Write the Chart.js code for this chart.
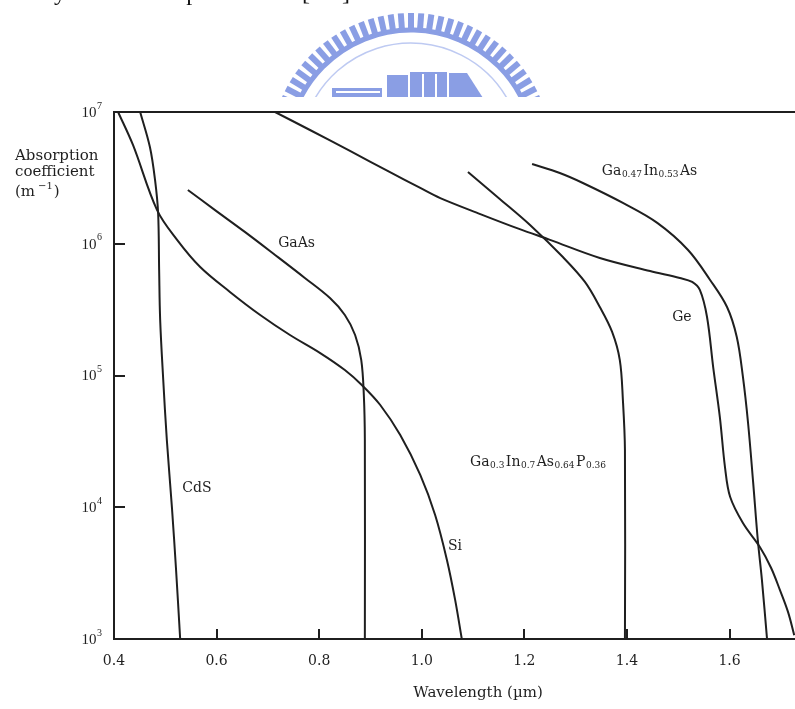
<!DOCTYPE html>
<html>
<head>
<meta charset="utf-8">
<script src="https://cdn.jsdelivr.net/npm/chart.js@4.4.0/dist/chart.umd.min.js"></script>
<style>
  html, body { margin: 0; padding: 0; background: #fff; }
  canvas { display: block; }
</style>
</head>
<body>
<canvas id="c" width="795" height="709"></canvas>
<script>
// Absorption coefficient of common semiconductors against wavelength (log scale)
const xMin = 0.4, xMax = 1.7275;
const yMin = 1e3, yMax = 1e7;
const xTickValues = [0.4, 0.6, 0.8, 1.0, 1.2, 1.4, 1.6];
const yTickExponents = [3, 4, 5, 6, 7];

// wavelength in µm, absorption coefficient in m^-1
const siWavelength = [0.408, 0.437, 0.484, 0.523, 0.568, 0.626, 0.685, 0.743, 0.802, 0.850, 0.883, 0.919, 0.958, 0.997, 1.026, 1.049, 1.065, 1.078];
const siAlpha      = [1e7, 5.62e6, 1.80e6, 1.07e6, 6.66e5, 4.31e5, 2.88e5, 2.03e5, 1.48e5, 1.10e5, 8.47e4, 5.97e4, 3.53e4, 1.76e4, 8.73e3, 3.98e3, 1.98e3, 1e3];

const gaasWavelength = [0.544, 0.597, 0.655, 0.714, 0.772, 0.821, 0.850, 0.870, 0.882, 0.887, 0.889, 0.889];
const gaasAlpha      = [2.56e6, 1.80e6, 1.23e6, 8.22e5, 5.50e5, 3.87e5, 2.88e5, 2.03e5, 1.31e5, 7.11e4, 3.24e4, 1e3];

const cdsWavelength = [0.451, 0.470, 0.480, 0.486, 0.488, 0.490, 0.496, 0.503, 0.513, 0.521, 0.529];
const cdsAlpha      = [1e7, 5.42e6, 3.05e6, 1.71e6, 6.32e5, 2.64e5, 9.25e4, 3.24e4, 9.87e3, 3.34e3, 1e3];

const geWavelength = [0.714, 0.782, 0.860, 0.938, 0.997, 1.036, 1.114, 1.191, 1.250, 1.347, 1.445, 1.503, 1.527, 1.542, 1.556, 1.568, 1.581, 1.591, 1.601, 1.626, 1.659, 1.681, 1.698, 1.714, 1.726];
const geAlpha      = [1e7, 7.30e6, 5.06e6, 3.50e6, 2.65e6, 2.22e6, 1.68e6, 1.29e6, 1.07e6, 7.80e5, 6.21e5, 5.50e5, 5.13e5, 4.46e5, 2.78e5, 1.16e5, 4.84e4, 2.02e4, 1.20e4, 7.59e3, 4.99e3, 3.46e3, 2.36e3, 1.60e3, 1.07e3];

const gainaspWavelength = [1.090, 1.152, 1.211, 1.275, 1.318, 1.347, 1.371, 1.386, 1.392, 1.396, 1.396];
const gainaspAlpha      = [3.50e6, 2.19e6, 1.39e6, 7.93e5, 5.13e5, 3.31e5, 2.14e5, 1.31e5, 6.52e4, 2.72e4, 1e3];

const gainasWavelength = [1.215, 1.269, 1.314, 1.392, 1.459, 1.519, 1.562, 1.595, 1.614, 1.626, 1.636, 1.646, 1.655, 1.663, 1.673];
const gainasAlpha      = [4.03e6, 3.44e6, 2.89e6, 2.04e6, 1.44e6, 8.97e5, 5.31e5, 3.31e5, 1.96e5, 9.75e4, 4.36e4, 1.53e4, 5.64e3, 2.81e3, 1e3];

const seriesNames = ['Si', 'GaAs', 'CdS', 'Ge', 'GaInAsP', 'GaInAs'];

// Curve captions: text pieces [text, isSubscript], anchored in data units (left edge, mid height)
const curveLabels = [
  { parts: [['CdS', 0]], at: [0.533, 1.40e4] },
  { parts: [['GaAs', 0]], at: [0.720, 1.01e6] },
  { parts: [['Si', 0]], at: [1.051, 5.08e3] },
  { parts: [['Ge', 0]], at: [1.488, 2.78e5] },
  { parts: [['Ga', 0], ['0.3', 1], ['In', 0], ['0.7', 1], ['As', 0], ['0.64', 1], ['P', 0], ['0.36', 1]], at: [1.094, 2.20e4] },
  { parts: [['Ga', 0], ['0.47', 1], ['In', 0], ['0.53', 1], ['As', 0]], at: [1.351, 3.57e6] }
];

const INK = '#1f1f1f';
const SERIF = '"Liberation Serif", "Times New Roman", serif';
const WIDE_SERIF = '"DejaVu Serif", "Liberation Serif", serif';

function pairs(xs, ys) { return xs.map((x, i) => ({ x: x, y: ys[i] })); }

function curve(label, xs, ys) {
  return {
    label: label,
    data: pairs(xs, ys),
    borderColor: INK,
    borderWidth: 2,
    pointRadius: 0,
    tension: 0.35,
    fill: false
  };
}

function drawParts(ctx, parts, x, y, base, sub) {
  let cx = x;
  parts.forEach(([t, isSub]) => {
    ctx.font = (isSub ? sub : base) + 'px ' + WIDE_SERIF;
    ctx.fillText(t, cx, isSub ? y + 4 : y);
    cx += ctx.measureText(t).width + (isSub ? 1.5 : 0.5);
  });
}

// Institutional seal behind the heading, plus annotations drawn on top of the axes
const decorations = {
  id: 'decorations',
  beforeDraw(chart) {
    const ctx = chart.ctx;
    ctx.save();
    ctx.fillStyle = '#fff';
    ctx.fillRect(0, 0, chart.width, chart.height);

    // seal (cut at its lower part)
    ctx.beginPath();
    ctx.rect(0, 0, chart.width, 97);
    ctx.clip();
    const cx = 411, cy = 154;
    const blue = 'rgb(138,158,228)';
    ctx.strokeStyle = blue;
    ctx.lineWidth = 5;
    ctx.beginPath();
    ctx.arc(cx, cy, 124, -Math.PI / 2 - 1.17, -Math.PI / 2 + 1.17);
    ctx.stroke();
    const nTeeth = 33;
    const a0 = -1.16, a1 = 1.16;
    ctx.lineWidth = 6;
    for (let i = 0; i < nTeeth; i++) {
      const a = a0 + (a1 - a0) * i / (nTeeth - 1);
      const s = Math.sin(a), c = Math.cos(a);
      ctx.beginPath();
      ctx.moveTo(cx + 124 * s, cy - 124 * c);
      ctx.lineTo(cx + 141 * s, cy - 141 * c);
      ctx.stroke();
    }
    ctx.strokeStyle = 'rgb(190,202,242)';
    ctx.lineWidth = 1.5;
    ctx.beginPath();
    ctx.arc(cx, cy, 111, -Math.PI / 2 - 1.1, -Math.PI / 2 + 1.1);
    ctx.stroke();
    ctx.fillStyle = blue;
    ctx.fillRect(332, 88, 50, 10);
    ctx.fillRect(387, 75, 21, 23);
    ctx.fillRect(410, 72, 37, 26);
    ctx.beginPath();
    ctx.moveTo(449, 73); ctx.lineTo(467, 73); ctx.lineTo(483, 98); ctx.lineTo(449, 98);
    ctx.closePath(); ctx.fill();
    ctx.fillStyle = '#fff';
    ctx.fillRect(336, 91, 44, 2);
    ctx.fillRect(422, 74, 2, 24);
    ctx.fillRect(435, 74, 2, 24);
    ctx.restore();

    // last line of the preceding paragraph, only its descenders fall on the page
    ctx.save();
    ctx.fillStyle = '#111';
    ctx.font = '24px ' + SERIF;
    ctx.textBaseline = 'alphabetic';
    ctx.fillText('by', 42, 0);
    ctx.fillText('spectra', 177, 0);
    ctx.fillText('[2-4]', 302, 0);
    ctx.restore();
  },
  afterDraw(chart) {
    const ctx = chart.ctx;
    const xs = chart.scales.x, ys = chart.scales.y;
    const area = chart.chartArea;
    ctx.save();
    ctx.strokeStyle = INK;
    ctx.fillStyle = INK;
    ctx.lineWidth = 2;

    // inward tick marks
    xTickValues.forEach(v => {
      if (v <= xMin) return;
      const px = Math.round(xs.getPixelForValue(v));
      ctx.beginPath();
      ctx.moveTo(px, area.bottom);
      ctx.lineTo(px, area.bottom - 10);
      ctx.stroke();
    });
    yTickExponents.forEach(e => {
      const v = Math.pow(10, e);
      if (v <= yMin || v >= yMax) return;
      const py = Math.round(ys.getPixelForValue(v));
      ctx.beginPath();
      ctx.moveTo(area.left, py);
      ctx.lineTo(area.left + 11, py);
      ctx.stroke();
    });

    // y tick labels as powers of ten
    ctx.textBaseline = 'middle';
    yTickExponents.forEach(e => {
      const py = ys.getPixelForValue(Math.pow(10, e));
      ctx.font = '10px ' + SERIF;
      const ew = ctx.measureText(String(e)).width;
      const right = area.left - 12;
      ctx.textAlign = 'left';
      ctx.fillText(String(e), right - ew, py - 6);
      ctx.font = '15px ' + SERIF;
      ctx.textAlign = 'right';
      ctx.fillText('10', right - ew - 0.5, py + 1);
    });

    // axis titles
    ctx.textAlign = 'left';
    ctx.font = '15px ' + WIDE_SERIF;
    ctx.fillText('Absorption', 15, 156);
    ctx.fillText('coefficient', 15, 172);
    ctx.fillText('(m', 15, 192);
    const mw = ctx.measureText('(m').width;
    ctx.font = '10px ' + WIDE_SERIF;
    ctx.fillText('\u22121', 15 + mw + 3, 186);
    const sw = ctx.measureText('\u22121').width;
    ctx.font = '15px ' + WIDE_SERIF;
    ctx.fillText(')', 15 + mw + 3 + sw + 1, 192);

    ctx.textAlign = 'center';
    ctx.fillText('Wavelength (\u00b5m)', 478, 693);

    // curve captions
    ctx.textAlign = 'left';
    curveLabels.forEach(l => {
      const px = xs.getPixelForValue(l.at[0]);
      const py = ys.getPixelForValue(l.at[1]);
      drawParts(ctx, l.parts, px, py, 14, 9);
    });
    ctx.restore();
  }
};

new Chart(document.getElementById('c'), {
  type: 'line',
  data: {
    datasets: [
      curve(seriesNames[0], siWavelength, siAlpha),
      curve(seriesNames[1], gaasWavelength, gaasAlpha),
      curve(seriesNames[2], cdsWavelength, cdsAlpha),
      curve(seriesNames[3], geWavelength, geAlpha),
      curve(seriesNames[4], gainaspWavelength, gainaspAlpha),
      curve(seriesNames[5], gainasWavelength, gainasAlpha)
    ]
  },
  options: {
    responsive: false,
    animation: false,
    devicePixelRatio: 1,
    layout: { padding: { top: 112, right: 0, bottom: 0, left: 0 } },
    plugins: { legend: { display: false }, tooltip: { enabled: false } },
    scales: {
      x: {
        type: 'linear',
        position: 'bottom',
        min: xMin,
        max: xMax,
        afterBuildTicks: s => { s.ticks = xTickValues.map(v => ({ value: v })); },
        afterFit: s => { s.height = 70; },
        grid: { display: false, drawTicks: false },
        border: { display: true, width: 2, color: INK },
        ticks: {
          autoSkip: false,
          maxRotation: 0,
          padding: 14,
          color: INK,
          font: { family: WIDE_SERIF, size: 14 },
          callback: v => Number(v).toFixed(1)
        }
      },
      xTop: {
        type: 'linear',
        position: 'top',
        min: xMin,
        max: xMax,
        afterFit: s => { s.height = 0; },
        grid: { display: false, drawTicks: false },
        border: { display: true, width: 2, color: INK },
        ticks: { display: false }
      },
      y: {
        type: 'logarithmic',
        position: 'left',
        min: yMin,
        max: yMax,
        afterFit: s => { s.width = 114; },
        grid: { display: false, drawTicks: false },
        border: { display: true, width: 2, color: INK },
        ticks: { display: false }
      }
    }
  },
  plugins: [decorations]
});
</script>
</body>
</html>
